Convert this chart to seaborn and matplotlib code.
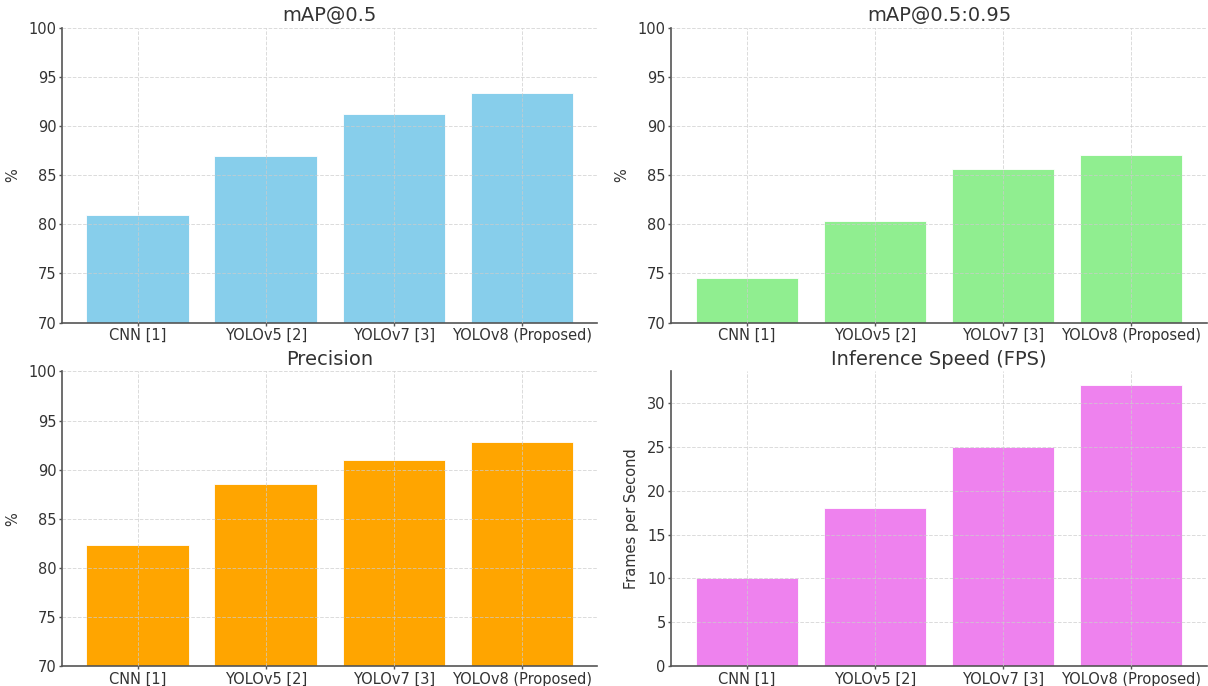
import matplotlib
matplotlib.use("Agg")
import matplotlib.pyplot as plt
import seaborn as sns
import pandas as pd

models = ["CNN [1]", "YOLOv5 [2]", "YOLOv7 [3]", "YOLOv8 (Proposed)"]
map50 = [81.0, 87.0, 91.2, 93.4]
map50_95 = [74.5, 80.3, 85.6, 87.1]
precision = [82.3, 88.5, 91.0, 92.8]
fps = [10, 18, 25, 32]

titles = ["mAP@0.5", "mAP@0.5:0.95", "Precision", "Inference Speed (FPS)"]
ylabels = ["%", "%", "%", "Frames per Second"]
colors = ["skyblue", "lightgreen", "orange", "violet"]
series = [map50, map50_95, precision, fps]
ylims = [(70, 100), (70, 100), (70, 100), None]

sns.set_theme(style="white")
plt.rcParams["font.family"] = ["DejaVu Sans"]
plt.rcParams.update({
    "text.color": "#333333",
    "axes.labelcolor": "#333333",
    "xtick.color": "#333333",
    "ytick.color": "#333333",
    "xtick.labelsize": 10.5,
    "ytick.labelsize": 10.5,
    "axes.titlesize": 14,
    "axes.labelsize": 10.5,
    "axes.edgecolor": "#555555",
    "axes.linewidth": 1.2,
    "xtick.bottom": True,
    "ytick.left": True,
})

fig, axes = plt.subplots(2, 2, figsize=(12.08, 6.86), dpi=100)
fig.subplots_adjust(left=62/1208, right=0.999, top=1-28/686, bottom=1-666/686,
                    wspace=0.138, hspace=0.166)

for ax, vals, title, yl, col, lim in zip(axes.flat, series, titles, ylabels, colors, ylims):
    df = pd.DataFrame({"Model": models, "Value": vals})
    sns.barplot(data=df, x="Model", y="Value", color=col, saturation=1, width=0.8,
                edgecolor="white", linewidth=0.6, ax=ax)
    ax.set_xlim(-0.59, 3.59)
    if lim is not None:
        ax.set_ylim(*lim)
    else:
        ax.set_ylim(0, max(vals) * 1.05)
    ax.set_title(title, pad=5)
    ax.set_ylabel(yl, labelpad=6)
    ax.set_xlabel("")
    ax.set_axisbelow(False)
    ax.grid(True, linestyle="--", linewidth=0.7, color="#cccccc", alpha=0.7)
    sns.despine(ax=ax)
    ax.tick_params(axis="both", length=2.5, width=1, pad=1.5, color="#555555")

fig.savefig("out.png", dpi=100)
